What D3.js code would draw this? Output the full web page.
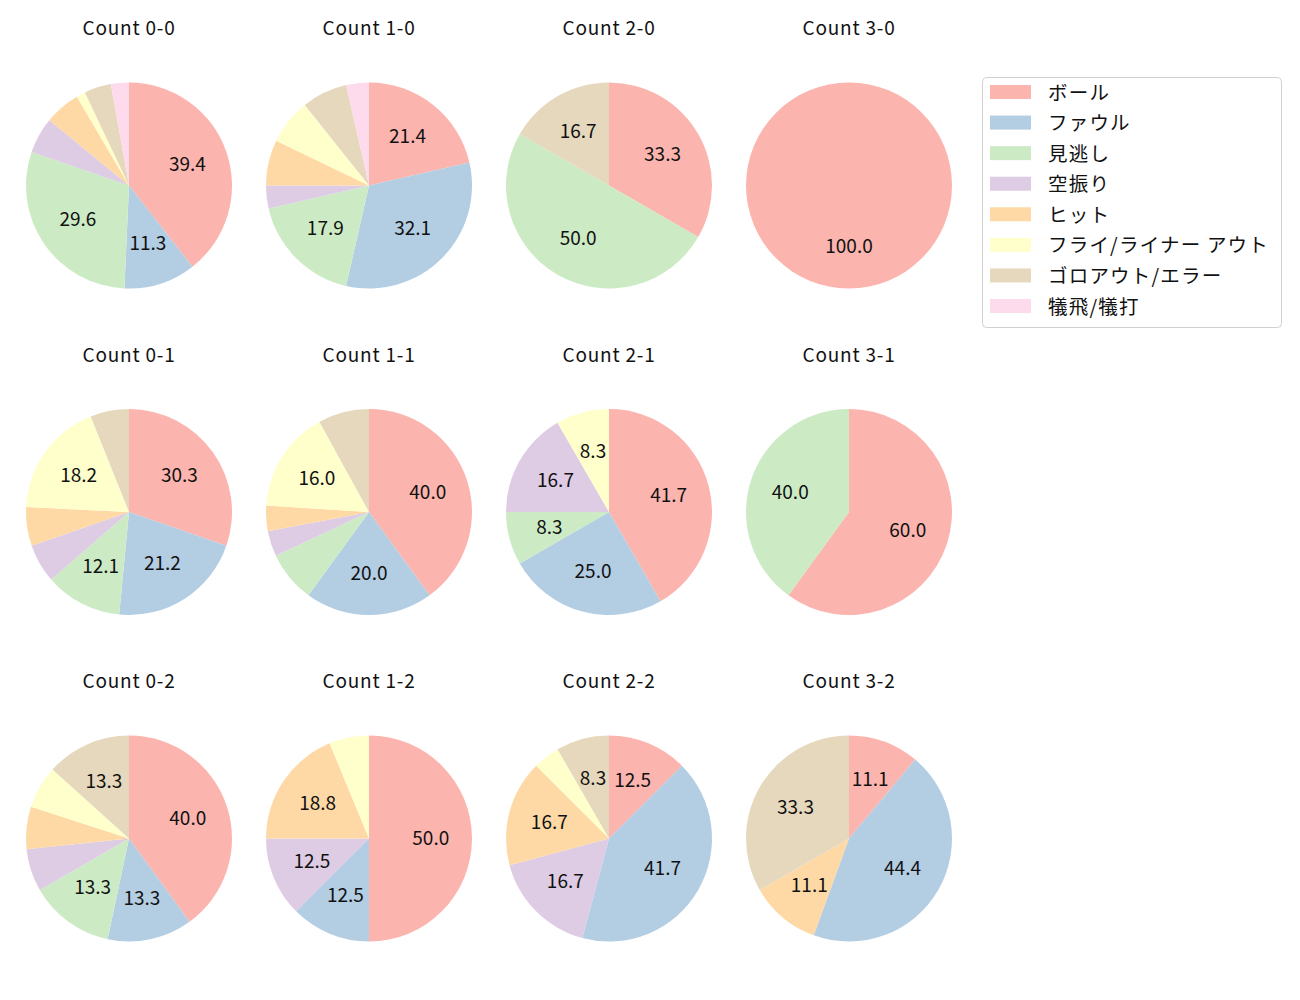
<!DOCTYPE html>
<html><head><meta charset="utf-8">
<script src="https://cdn.jsdelivr.net/npm/d3@7"></script>
<style>body{margin:0;background:#fff;font-family:"Noto Sans CJK JP","Noto Sans",sans-serif;}</style>
</head><body>
<svg id="chart" width="1300" height="1000"></svg>
<script>
const categories = ["ボール","ファウル","見逃し","空振り","ヒット","フライ/ライナー アウト","ゴロアウト/エラー","犠飛/犠打"];
const colors = ["#fbb4ae","#b3cde3","#ccebc5","#decbe4","#fed9a6","#ffffcc","#e5d8bd","#fddaec"];
const counts = ["0-0","1-0","2-0","3-0","0-1","1-1","2-1","3-1","0-2","1-2","2-2","3-2"];
// pitches per category for each count
const v00 = [28,8,21,4,4,1,3,2];
const v10 = [6,9,5,1,2,2,2,1];
const v20 = [2,0,3,0,0,0,1,0];
const v30 = [1,0,0,0,0,0,0,0];
const v01 = [10,7,4,2,2,6,2,0];
const v11 = [10,5,2,1,1,4,2,0];
const v21 = [5,3,1,2,0,1,0,0];
const v31 = [3,0,2,0,0,0,0,0];
const v02 = [6,2,2,1,1,1,2,0];
const v12 = [8,2,0,2,3,1,0,0];
const v22 = [3,10,0,4,4,1,2,0];
const v32 = [1,4,0,0,1,0,3,0];
const values = [v00,v10,v20,v30,v01,v11,v21,v31,v02,v12,v22,v32];
const labelThreshold = 8.1;

const svg = d3.select("#chart");
const colX = d3.scalePoint().domain([0,1,2,3]).range([129,849]);
const rowY = d3.scalePoint().domain([0,1,2]).range([185.5,838.5]);
const R = 103;
const color = d3.scaleOrdinal().domain(categories).range(colors);
const pie = d3.pie().sort(null).value(d=>d.v).startAngle(0).endAngle(2*Math.PI);
const arc = d3.arc().innerRadius(0).outerRadius(R);

counts.forEach((c,i)=>{
  const cx = colX(i%4), cy = rowY(Math.floor(i/4));
  const g = svg.append("g").attr("transform",`translate(${cx},${cy})`);
  const data = categories.map((k,j)=>({k, v: values[i][j]}));
  const total = d3.sum(data,d=>d.v);
  const arcs = pie(data).filter(a=>a.data.v>0);
  g.selectAll("path").data(arcs).join("path")
    .attr("d",arc).attr("fill",d=>color(d.data.k));
  g.selectAll("text.lab").data(arcs.filter(a=>a.data.v/total*100>=labelThreshold)).join("text")
    .attr("class","lab")
    .attr("x",d=>{const m=(d.startAngle+d.endAngle)/2; return 0.6*R*Math.sin(m);})
    .attr("y",d=>{const m=(d.startAngle+d.endAngle)/2; return -0.6*R*Math.cos(m)-2.5;})
    .attr("text-anchor","middle").attr("dominant-baseline","central")
    .attr("font-size",19).attr("fill","#111")
    .text(d=>(d.data.v/total*100).toFixed(1));
  svg.append("text").attr("x",cx).attr("y",cy-150.5).attr("text-anchor","middle")
    .attr("font-size",19).attr("letter-spacing",0.8).attr("fill","#111").text("Count "+c);
});

// legend
const lg = svg.append("g").attr("transform","translate(982,77)");
lg.append("rect").attr("x",0.5).attr("y",0.5).attr("width",299).attr("height",250).attr("rx",4)
  .attr("fill","#fff").attr("stroke","#d0d0d0");
const ly = d3.scalePoint().domain(categories).range([15,229]);
categories.forEach(k=>{
  lg.append("rect").attr("x",8).attr("y",ly(k)-7).attr("width",41).attr("height",14).attr("fill",color(k));
  lg.append("text").attr("x",66).attr("y",ly(k)-1).attr("dominant-baseline","central")
    .attr("font-size",19.5).attr("letter-spacing",1.2).attr("fill","#111").text(k);
});
</script>
</body></html>
